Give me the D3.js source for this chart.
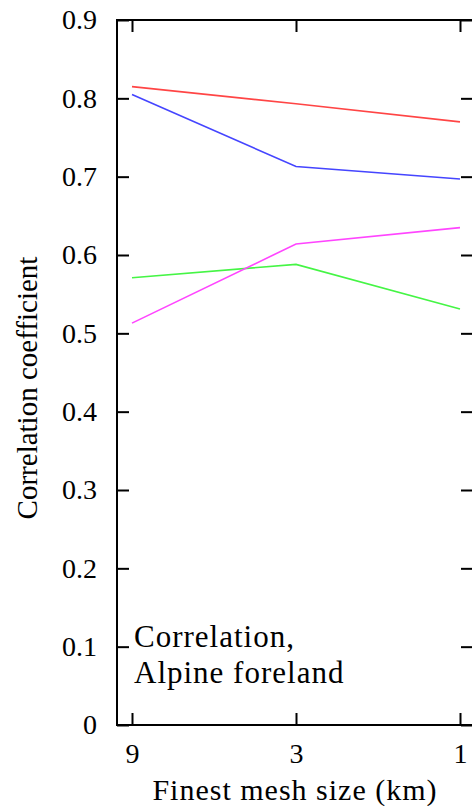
<!DOCTYPE html>
<html><head><meta charset="utf-8">
<script src="https://cdn.jsdelivr.net/npm/d3@7"></script>
<style>body{margin:0;background:#fff}svg{display:block}svg text{font-family:'Liberation Serif','DejaVu Serif','Times New Roman',Times,serif;fill:#000}</style>
</head><body><svg id="c" width="472" height="806"></svg>
<script>
const categories = ["9", "3", "1"];
const red = [0.815, 0.793, 0.770];
const blue = [0.805, 0.713, 0.697];
const magenta = [0.513, 0.614, 0.635];
const green = [0.571, 0.588, 0.531];
const yTicks = [0, 0.1, 0.2, 0.3, 0.4, 0.5, 0.6, 0.7, 0.8, 0.9];
const series = [
  {values: red, color: "#ff4545"},
  {values: blue, color: "#4545ff"},
  {values: green, color: "#45f545"},
  {values: magenta, color: "#ff45ff"}
];
const L = 117, R = 473, T = 20, B = 725;
const svg = d3.select("#c");
const x = d3.scalePoint().domain(categories).range([132, 460]);
const y = d3.scaleLinear().domain([0, 0.9]).range([B, T]);

const line = d3.line().x((d, i) => x(categories[i])).y(d => y(d));
series.forEach(s => {
  svg.append("path").attr("d", line(s.values)).attr("fill", "none")
    .attr("stroke", s.color).attr("stroke-width", 1.6);
});

const fmt = d => d === 0 ? "0" : d3.format(".1f")(d);
const gl = svg.append("g").attr("transform", `translate(${L},0)`)
  .call(d3.axisLeft(y).tickValues(yTicks).tickSize(-12).tickPadding(20).tickFormat(fmt));
const gr = svg.append("g").attr("transform", `translate(${R},0)`)
  .call(d3.axisRight(y).tickValues(yTicks).tickSize(-12).tickFormat(""));
const gb = svg.append("g").attr("transform", `translate(0,${B})`)
  .call(d3.axisBottom(x).tickSize(-12).tickPadding(32));
const gt = svg.append("g").attr("transform", `translate(0,${T})`)
  .call(d3.axisTop(x).tickSize(-12).tickFormat(""));
[gl, gr, gb, gt].forEach(g => {
  g.attr("font-family", null);
  g.select(".domain").remove();
  g.selectAll(".tick line").attr("stroke", "#000").attr("stroke-width", 2);
  g.selectAll(".tick text").attr("font-size", 28);
});
gb.selectAll(".tick text").attr("dy", "0.2em");

svg.append("rect").attr("x", L).attr("y", T).attr("width", R - L).attr("height", B - T)
  .attr("fill", "none").attr("stroke", "#000").attr("stroke-width", 2);

svg.append("text").attr("x", 295).attr("y", 800).attr("text-anchor", "middle")
  .attr("font-size", 30).attr("letter-spacing", 1).text("Finest mesh size (km)");
svg.append("text").attr("transform", "translate(37,388) rotate(-90)").attr("text-anchor", "middle")
  .attr("font-size", 29).text("Correlation coefficient");
const ann = svg.append("text").attr("font-size", 31).attr("letter-spacing", 1);
ann.append("tspan").attr("x", 134).attr("y", 647).text("Correlation,");
ann.append("tspan").attr("x", 134).attr("y", 683).text("Alpine foreland");
</script></body></html>
